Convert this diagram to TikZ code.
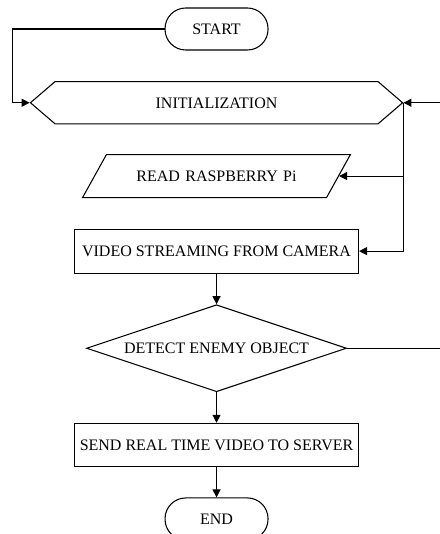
\documentclass[tikz,border=0pt]{standalone}
\usepackage{fontspec}
\setmainfont{Liberation Serif}
\usepackage{tikz}
\usetikzlibrary{shapes.geometric, shapes.symbols, arrows.meta, positioning, calc}

\begin{document}
\begin{tikzpicture}[
  node distance=22.9pt,
  every node/.style={font=\fontsize{12}{14}\selectfont, inner sep=0pt},
  terminal/.style={rectangle, rounded corners=15.5pt, draw, line width=0.8pt, minimum width=77.25pt, minimum height=31.5pt},
  prepbox/.style={signal, signal to=west and east, signal pointer angle=81.3, draw, line width=0.8pt,
    text width=120pt, align=center, text height=8.5pt, text depth=0pt, inner xsep=61.1pt, inner ysep=11.6pt},
  iobox/.style={trapezium, trapezium left angle=61, trapezium right angle=119, draw, line width=0.8pt,
    text width=140pt, align=center, text height=8.5pt, text depth=0pt, inner xsep=12.55pt, inner ysep=11.875pt},
  procbox/.style={rectangle, draw, line width=0.8pt, minimum width=213pt, minimum height=#1},
  decision/.style={diamond, aspect=3, draw, line width=0.8pt, minimum width=195pt, minimum height=65.25pt},
  flow/.style={line width=0.8pt, -{Triangle[length=6pt, width=6pt]}}
]
  \useasboundingbox (-162.4pt,21.75pt) rectangle (166.9pt,-378.75pt);

  % Main column
  \node[terminal] (start) {START};
  \node[prepbox, below=of start] (init) {INITIALIZATION};
  \node[iobox, below=22.2pt of init] (read) {READ RASPBERRY Pi};
  \node[procbox=33pt, below=of read] (video) {VIDEO STREAMING FROM CAMERA};
  \node[decision, below=of video] (detect) {DETECT ENEMY OBJECT};
  \node[procbox=32.25pt, below=of detect] (send) {SEND REAL TIME VIDEO TO SERVER};
  \node[terminal, below=of send] (stop) {END};

  % Straight arrows
  \draw[flow] (video) -- (detect);
  \draw[flow] (detect) -- (send);
  \draw[flow] (send) -- (stop);

  % Start into initialization
  \draw[flow] (start.west) -| ([xshift=-12.75pt]init.west) -- (init.west);

  % Feedback branches on the right
  \draw[flow] (init.east) |- (video.east);
  \draw[flow] (init.east |- read.east) -- (read.east);
  \draw[flow] (detect.east) -- ++(75pt,0) |- (init.east);
\end{tikzpicture}
\end{document}
